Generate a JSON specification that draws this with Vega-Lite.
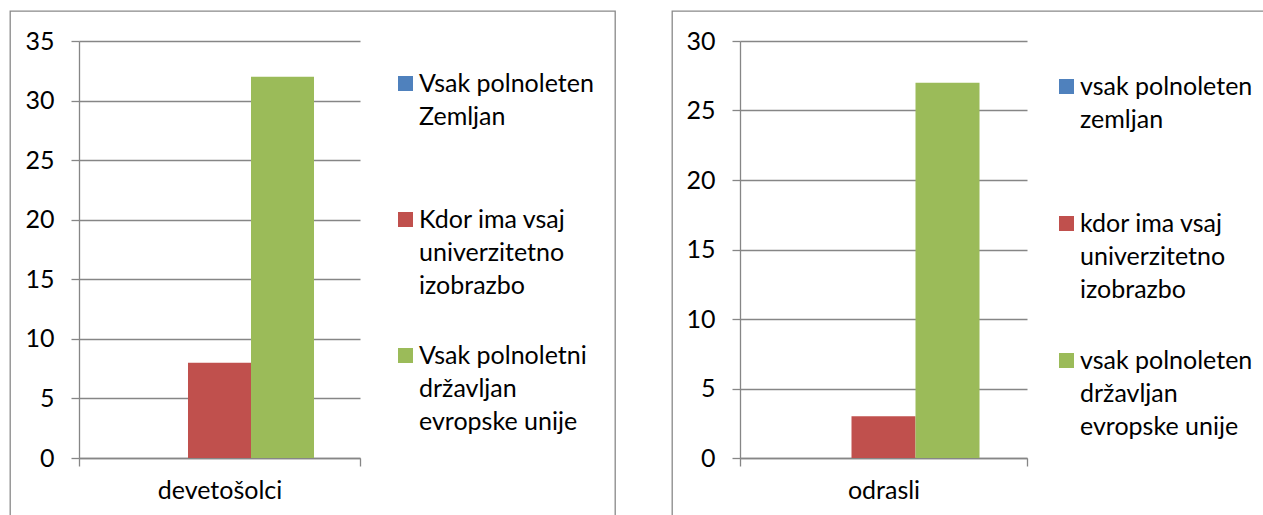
{
  "$schema": "https://vega.github.io/schema/vega-lite/v6.json",
  "padding": {"left": 9, "top": 10, "right": 0, "bottom": 0},
  "spacing": 57,
  "bounds": "flush",
  "config": {
    "view": {"stroke": "#898989", "strokeWidth": 1.3},
    "font": "Lato",
    "axis": {
      "labelFont": "Lato", "labelFontSize": 25, "labelColor": "#000000",
      "domainColor": "#868686", "tickColor": "#868686", "gridColor": "#868686",
      "gridOpacity": 1, "tickSize": 8, "title": null,
      "domainWidth": 1.3, "tickWidth": 1.3, "gridWidth": 1.3
    },
    "legend": {
      "title": null, "symbolType": "square", "symbolSize": 225, "symbolStrokeWidth": 0,
      "labelFont": "Lato", "labelFontSize": 25, "labelColor": "#000000", "labelLimit": 0,
      "labelOffset": 1, "labelBaseline": "middle", "rowPadding": 44, "padding": 0
    }
  },
  "datasets": {
    "left": [
      {"group": "devetošolci", "series": "Vsak polnoleten Zemljan", "value": 0},
      {"group": "devetošolci", "series": "Kdor ima vsaj univerzitetno izobrazbo", "value": 8},
      {"group": "devetošolci", "series": "Vsak polnoletni državljan evropske unije", "value": 32}
    ],
    "right": [
      {"group": "odrasli", "series": "vsak polnoleten zemljan", "value": 0},
      {"group": "odrasli", "series": "kdor ima vsaj univerzitetno izobrazbo", "value": 3},
      {"group": "odrasli", "series": "vsak polnoleten državljan evropske unije", "value": 27}
    ]
  },
  "resolve": {"scale": {"color": "independent", "x": "independent", "y": "independent", "xOffset": "independent"}, "legend": {"color": "independent"}},
  "hconcat": [
    {
      "width": 605, "height": 520,
      "data": {"name": "left"},
      "mark": {"type": "bar"},
      "encoding": {
        "x": {"field": "group", "type": "nominal",
          "scale": {"range": [69, 350], "paddingInner": 0, "paddingOuter": 0},
          "axis": {"orient": "bottom", "offset": -73, "labelAngle": 0, "tickBand": "extent", "labelPadding": 12, "grid": false}},
        "xOffset": {"field": "series", "type": "nominal",
          "sort": ["Vsak polnoleten Zemljan", "Kdor ima vsaj univerzitetno izobrazbo", "Vsak polnoletni državljan evropske unije"],
          "scale": {"paddingInner": 0, "paddingOuter": 0.73}},
        "y": {"field": "value", "type": "quantitative",
          "scale": {"domain": [0, 35], "range": [447, 30], "nice": false},
          "axis": {"offset": -69, "values": [0, 5, 10, 15, 20, 25, 30, 35], "grid": true, "labelPadding": 17}},
        "color": {"field": "series", "type": "nominal",
          "scale": {"domain": ["Vsak polnoleten Zemljan", "Kdor ima vsaj univerzitetno izobrazbo", "Vsak polnoletni državljan evropske unije"], "range": ["#4F81BD", "#C0504D", "#9BBB59"]},
          "legend": {"orient": "none", "legendX": 383, "legendY": 60,
            "encode": {"labels": {"update": {"lineHeight": {"value": 33}}}},
            "labelExpr": "datum.label == 'Vsak polnoleten Zemljan' ? ['Vsak polnoleten', 'Zemljan', ''] : datum.label == 'Kdor ima vsaj univerzitetno izobrazbo' ? ['Kdor ima vsaj', 'univerzitetno', 'izobrazbo'] : ['Vsak polnoletni', 'državljan', 'evropske unije']"}}
      }
    },
    {
      "width": 600, "height": 520,
      "data": {"name": "right"},
      "mark": {"type": "bar"},
      "encoding": {
        "x": {"field": "group", "type": "nominal",
          "scale": {"range": [68, 355], "paddingInner": 0, "paddingOuter": 0},
          "axis": {"orient": "bottom", "offset": -73, "labelAngle": 0, "tickBand": "extent", "labelPadding": 12, "grid": false}},
        "xOffset": {"field": "series", "type": "nominal",
          "sort": ["vsak polnoleten zemljan", "kdor ima vsaj univerzitetno izobrazbo", "vsak polnoleten državljan evropske unije"],
          "scale": {"paddingInner": 0, "paddingOuter": 0.742}},
        "y": {"field": "value", "type": "quantitative",
          "scale": {"domain": [0, 30], "range": [447, 30], "nice": false},
          "axis": {"offset": -68, "values": [0, 5, 10, 15, 20, 25, 30], "grid": true, "labelPadding": 17}},
        "color": {"field": "series", "type": "nominal",
          "scale": {"domain": ["vsak polnoleten zemljan", "kdor ima vsaj univerzitetno izobrazbo", "vsak polnoleten državljan evropske unije"], "range": ["#4F81BD", "#C0504D", "#9BBB59"]},
          "legend": {"orient": "none", "legendX": 382, "legendY": 63, "rowPadding": 45,
            "encode": {"labels": {"update": {"lineHeight": {"value": 33}}}},
            "labelExpr": "datum.label == 'vsak polnoleten zemljan' ? ['vsak polnoleten', 'zemljan', ''] : datum.label == 'kdor ima vsaj univerzitetno izobrazbo' ? ['kdor ima vsaj', 'univerzitetno', 'izobrazbo'] : ['vsak polnoleten', 'državljan', 'evropske unije']"}}
      }
    }
  ]
}
